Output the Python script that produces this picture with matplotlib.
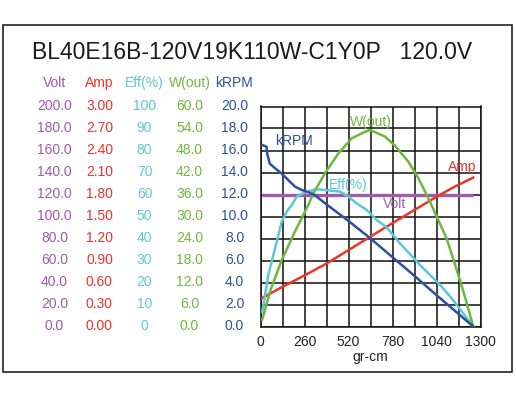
import matplotlib
matplotlib.use("Agg")
import matplotlib.pyplot as plt
import matplotlib.transforms as mtrans
from matplotlib.patches import Rectangle

plt.rcParams['font.family'] = ['Liberation Sans', 'DejaVu Sans']

title = "BL40E16B-120V19K110W-C1Y0P   120.0V"

# ---- data (torque in gr-cm) ----
volt_x = [8, 300, 650, 1000, 1257]
volt_y = [119.5, 119.5, 119.5, 119.5, 119.5]

amp_x = [10, 125, 263, 391, 519, 667, 780, 910, 1041, 1150, 1257]
amp_y = [0.39, 0.535, 0.70, 0.86, 1.04, 1.25, 1.41, 1.59, 1.77, 1.91, 2.03]

eff_x = [10, 27, 46, 66, 96, 125, 155, 184, 214, 263, 332, 391, 470, 519, 568,
         627, 687, 746, 824, 942, 1061, 1130, 1257]
eff_y = [6.7, 14.3, 23.4, 29.5, 38.5, 47.6, 52.2, 55.2, 59.0, 61.0, 62.4, 62.0,
         61.3, 59.0, 56.0, 53.0, 48.4, 45.0, 37.8, 28.0, 18.9, 12.8, 0.0]

w_x = [10, 56, 125, 204, 282, 312, 381, 460, 539, 617, 647, 736, 795, 873, 932,
       992, 1031, 1100, 1179, 1218, 1257]
w_y = [1.8, 9.5, 18.1, 25.9, 33.1, 36.3, 41.8, 47.2, 51.3, 53.1, 53.6, 51.8,
       49.3, 45.0, 40.5, 35.0, 31.0, 24.0, 12.6, 6.5, 0.0]

rpm_x = [10, 35, 40, 55, 85, 125, 165, 205, 245, 285, 320, 390, 520, 650, 780,
         910, 1040, 1170, 1257]
rpm_y = [16.5, 16.35, 15.7, 14.8, 14.4, 13.9, 13.3, 12.7, 12.4, 12.2, 11.95,
         11.1, 9.6, 8.0, 6.3, 4.6, 2.85, 1.15, 0.0]

volt_ticks = ["200.0", "180.0", "160.0", "140.0", "120.0", "100.0", "80.0", "60.0", "40.0", "20.0", "0.0"]
amp_ticks = ["3.00", "2.70", "2.40", "2.10", "1.80", "1.50", "1.20", "0.90", "0.60", "0.30", "0.00"]
eff_ticks = ["100", "90", "80", "70", "60", "50", "40", "30", "20", "10", "0"]
w_ticks = ["60.0", "54.0", "48.0", "42.0", "36.0", "30.0", "24.0", "18.0", "12.0", "6.0", "0.0"]
rpm_ticks = ["20.0", "18.0", "16.0", "14.0", "12.0", "10.0", "8.0", "6.0", "4.0", "2.0", "0.0"]
x_ticks = [0, 260, 520, 780, 1040, 1300]

C_VOLT = "#a05aac"
C_AMP = "#ee3328"
C_EFF = "#5cc8d6"
C_W = "#6cb93c"
C_RPM = "#2b50a2"

W_PX, H_PX = 516, 399
fig = plt.figure(figsize=(W_PX / 100, H_PX / 100), dpi=100)

# outer frame
fig.patches.append(Rectangle((3 / W_PX, 1 - 372 / H_PX), 509 / W_PX, 347 / H_PX,
                             transform=fig.transFigure, fill=False,
                             edgecolor="#222222", linewidth=1.2))

fig.text(32 / W_PX, 1 - 52.5 / H_PX, title, fontsize=16.5, color="#1a1a1a",
         ha="left", va="center")

L, R, T, B = 260.5, 480.5, 106.5, 326.5
rect = [L / W_PX, 1 - B / H_PX, (R - L) / W_PX, (B - T) / H_PX]
ax = fig.add_axes(rect)
ax.set_xlim(0, 1300)
ax.set_ylim(0, 200)
ax.set_xticks(x_ticks)
ax.set_xticks(range(0, 1301, 130), minor=True)
ax.set_yticks(range(0, 201, 20))
ax.set_yticklabels([])
ax.tick_params(axis="both", which="both", length=0)
ax.tick_params(axis="x", labelsize=10, pad=6, colors="#222222")
ax.grid(True, which="both", color="#111111", linewidth=1.1)
for s in ax.spines.values():
    s.set_color("#111111")
    s.set_linewidth(1.1)
ax.set_xlabel("gr-cm", fontsize=10, color="#222222", labelpad=0.5)
ax.set_axisbelow(True)

def twin(ylim):
    a = fig.add_axes(rect, sharex=ax)
    a.set_ylim(*ylim)
    a.patch.set_visible(False)
    a.axis("off")
    return a

ax_amp = twin((0, 3))
ax_eff = twin((0, 100))
ax_w = twin((0, 60))
ax_rpm = twin((0, 20))

ax.plot(volt_x, volt_y, color=C_VOLT, lw=2.4, solid_capstyle="butt")
ax_amp.plot(amp_x, amp_y, color=C_AMP, lw=1.8)
ax_eff.plot(eff_x, eff_y, color=C_EFF, lw=1.8)
ax_w.plot(w_x, w_y, color=C_W, lw=1.8)
ax_rpm.plot(rpm_x, rpm_y, color=C_RPM, lw=1.8)

# curve labels
ax.text(790, 111, "Volt", color=C_VOLT, fontsize=10, ha="center", va="center")
ax_amp.text(1190, 2.17, "Amp", color=C_AMP, fontsize=10, ha="center", va="center")
ax_eff.text(520, 64.5, "Eff(%)", color=C_EFF, fontsize=10, ha="center", va="center")
ax_w.text(655, 55.8, "W(out)", color=C_W, fontsize=10, ha="center", va="center")
ax_rpm.text(200, 16.9, "kRPM", color=C_RPM, fontsize=10, ha="center", va="center")

# left scale table
cols = [(54.5, "Volt", volt_ticks, C_VOLT),
        (99.5, "Amp", amp_ticks, C_AMP),
        (144.5, "Eff(%)", eff_ticks, C_EFF),
        (189.5, "W(out)", w_ticks, C_W),
        (234.5, "kRPM", rpm_ticks, C_RPM)]
n = len(volt_ticks)
for xc, head, ticks, col in cols:
    tr = mtrans.blended_transform_factory(fig.transFigure, ax.transAxes)
    fig.text(xc / W_PX, 1 - 83 / H_PX, head, color=col, fontsize=10,
             ha="center", va="center")
    for i, t in enumerate(ticks):
        frac = 1 - i / (n - 1)
        fig.text(xc / W_PX, frac, t, color=col, fontsize=10, ha="center",
                 va="center", transform=tr)

fig.savefig("out.png", dpi=100)
